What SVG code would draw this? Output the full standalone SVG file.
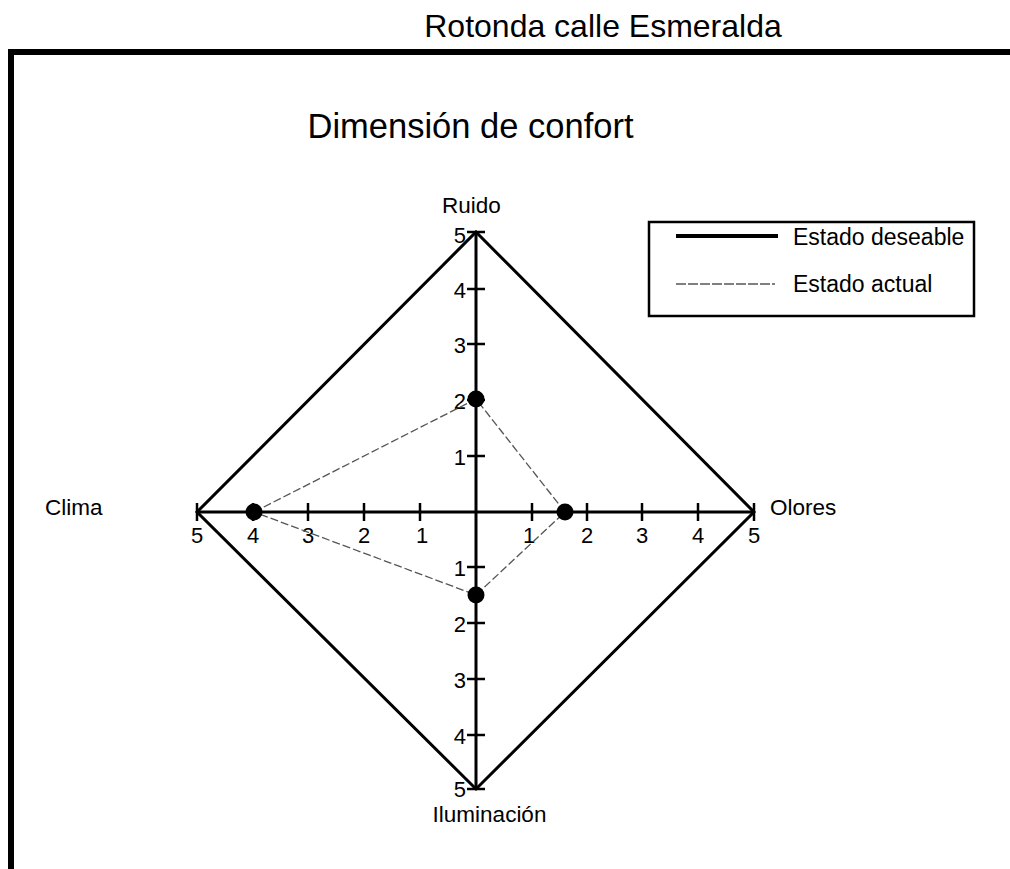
<svg xmlns="http://www.w3.org/2000/svg" width="1010" height="869" viewBox="0 0 1010 869">
<style>
text{font-family:"Liberation Sans",Arial,sans-serif;fill:#000}
.tick{stroke:#000;stroke-width:2.5}
.lab{font-size:22.5px}
.num{font-size:22px}
</style>
<rect width="1010" height="869" fill="#fff"/>
<text x="603" y="37" font-size="32" text-anchor="middle">Rotonda calle Esmeralda</text>
<rect x="11" y="52" width="1010" height="840" fill="none" stroke="#000" stroke-width="6"/>
<text x="470.5" y="138" font-size="34.5" text-anchor="middle">Dimensión de confort</text>
<g id="legend">
<rect x="649" y="222" width="325" height="94" fill="none" stroke="#000" stroke-width="2.5"/>
<line x1="676" y1="236" x2="778" y2="236" stroke="#000" stroke-width="4"/>
<text x="793" y="245" font-size="23">Estado deseable</text>
<line x1="676" y1="284" x2="775" y2="284" stroke="#000" stroke-width="1" stroke-dasharray="10,2"/>
<text x="793" y="292" font-size="23">Estado actual</text>
</g>
<g id="desired">
<polygon points="476,232 754,512 476,789 197,512" fill="none" stroke="#000" stroke-width="3"/>
</g>
<g id="axes">
<line x1="476" y1="232" x2="476" y2="789" stroke="#000" stroke-width="3"/>
<line x1="197" y1="512" x2="754" y2="512" stroke="#000" stroke-width="3"/>
<g class="tick">
<line x1="467" y1="232" x2="485" y2="232"/>
<line x1="467" y1="289" x2="485" y2="289"/>
<line x1="467" y1="344" x2="485" y2="344"/>
<line x1="467" y1="400" x2="485" y2="400"/>
<line x1="467" y1="456" x2="485" y2="456"/>
<line x1="467" y1="567" x2="485" y2="567"/>
<line x1="467" y1="623" x2="485" y2="623"/>
<line x1="467" y1="679" x2="485" y2="679"/>
<line x1="467" y1="735" x2="485" y2="735"/>
<line x1="467" y1="789" x2="485" y2="789"/>
<line x1="197" y1="503" x2="197" y2="521"/>
<line x1="253" y1="503" x2="253" y2="521"/>
<line x1="308" y1="503" x2="308" y2="521"/>
<line x1="364" y1="503" x2="364" y2="521"/>
<line x1="420" y1="503" x2="420" y2="521"/>
<line x1="532" y1="503" x2="532" y2="521"/>
<line x1="587" y1="503" x2="587" y2="521"/>
<line x1="642" y1="503" x2="642" y2="521"/>
<line x1="698" y1="503" x2="698" y2="521"/>
<line x1="754" y1="503" x2="754" y2="521"/>
</g>
<g text-anchor="end">
<text x="466" y="243" class="num">5</text>
<text x="466" y="298" class="num">4</text>
<text x="466" y="353" class="num">3</text>
<text x="466" y="409" class="num">2</text>
<text x="466" y="465" class="num">1</text>
<text x="466" y="576" class="num">1</text>
<text x="466" y="632" class="num">2</text>
<text x="466" y="688" class="num">3</text>
<text x="466" y="744" class="num">4</text>
<text x="466" y="797" class="num">5</text>
</g>
<g text-anchor="middle">
<text x="197" y="543" class="num">5</text>
<text x="253" y="543" class="num">4</text>
<text x="308" y="543" class="num">3</text>
<text x="364" y="543" class="num">2</text>
<text x="422" y="543" class="num">1</text>
<text x="529" y="543" class="num">1</text>
<text x="587" y="543" class="num">2</text>
<text x="642" y="543" class="num">3</text>
<text x="698" y="543" class="num">4</text>
<text x="754" y="543" class="num">5</text>
</g>
</g>
<g id="labels">
<text x="471.5" y="213" class="lab" text-anchor="middle">Ruido</text>
<text x="45" y="515" class="lab">Clima</text>
<text x="770" y="515" class="lab">Olores</text>
<text x="489.5" y="822" class="lab" text-anchor="middle">Iluminación</text>
</g>
<g id="current">
<polygon points="254,512 476,399 565,512 476,595" fill="none" stroke="#555" stroke-width="1.3" stroke-dasharray="8,3"/>
<circle cx="254" cy="512" r="8.5" fill="#000"/>
<circle cx="476" cy="399" r="8.5" fill="#000"/>
<circle cx="565" cy="512" r="8.5" fill="#000"/>
<circle cx="476" cy="595" r="8.5" fill="#000"/>
</g>
</svg>
